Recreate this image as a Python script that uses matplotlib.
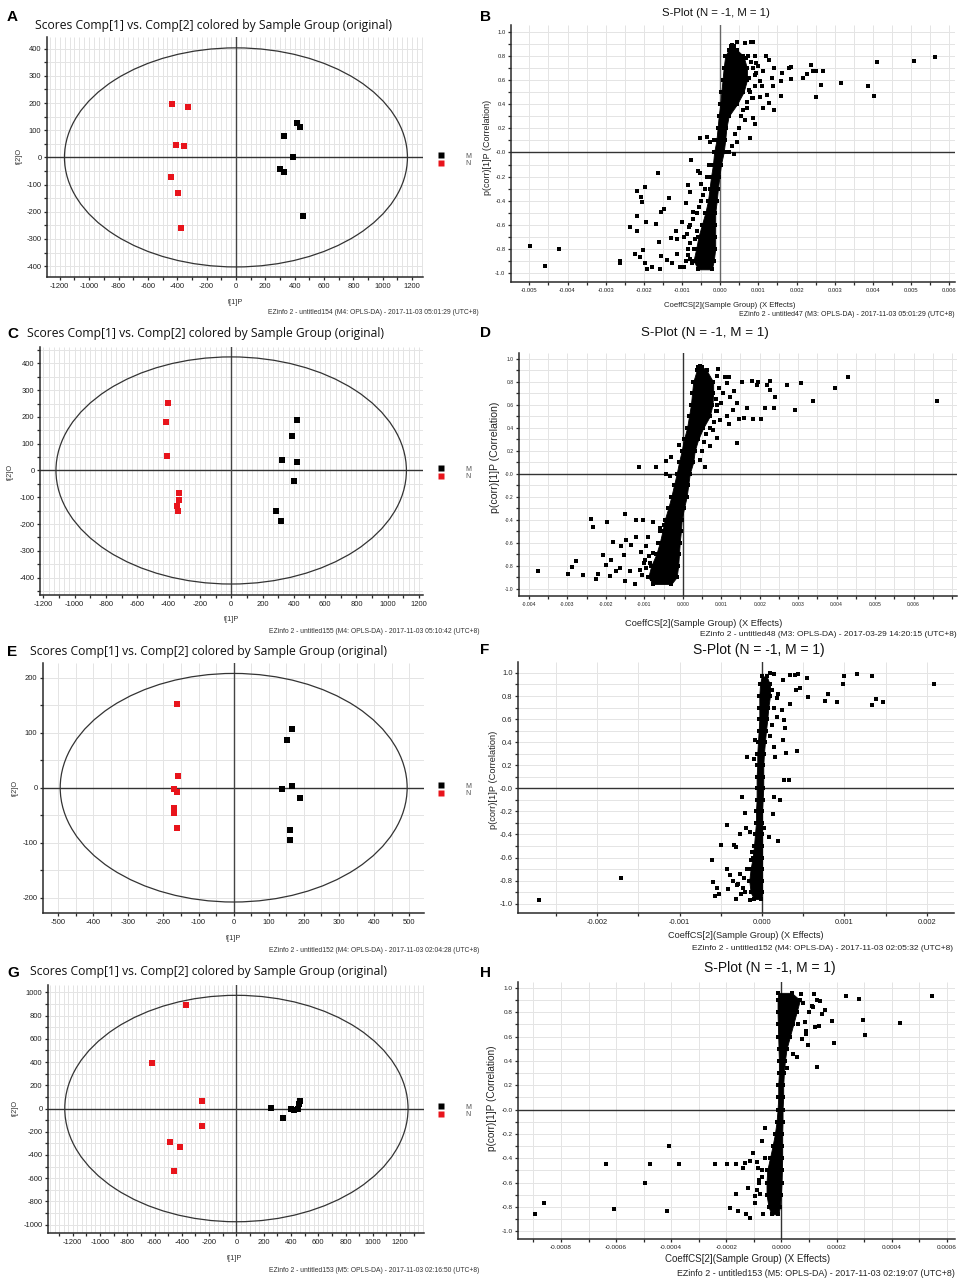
import numpy as np
import matplotlib
matplotlib.use('Agg')
import matplotlib.pyplot as plt
from matplotlib.patches import Ellipse
from matplotlib.lines import Line2D
from matplotlib.ticker import MultipleLocator, FixedLocator, FixedFormatter

W, H = 963, 1282

# ======================= DATA =======================
# ---- Score plots (t[1]P, t[2]O) ----
A_M_t1 = [414, 433, 326, 389, 301, 328, 455]
A_M_t2 = [128, 112, 78, 0, -44, -52, -217]
A_N_t1 = [-433, -326, -405, -357, -442, -392, -371]
A_N_t2 = [196, 186, 46, 41, -73, -132, -258]
A_ellipse = [1168, 403]

C_M_t1 = [419, 389, 323, 419, 398, 289, 315]
C_M_t2 = [189, 128, 40, 31, -41, -150, -190]
C_N_t1 = [-402, -419, -409, -336, -334, -345, -340]
C_N_t2 = [252, 180, 53, -86, -112, -131, -151]
C_ellipse = [1119, 424]

E_M_t1 = [166, 152, 137, 166, 190, 159, 159]
E_M_t2 = [106, 87, -2, 3, -19, -77, -95]
E_N_t1 = [-162, -158, -171, -162, -169, -169, -162]
E_N_t2 = [153, 22, -3, -8, -37, -46, -73]
E_ellipse = [494, 208]

G_M_t1 = [253, 343, 399, 425, 451, 456, 465]
G_M_t2 = [4, -79, -1, -13, 0, 40, 65]
G_N_t1 = [-370, -618, -255, -255, -490, -411, -455]
G_N_t2 = [891, 392, 62, -148, -288, -334, -538]
G_ellipse = [1258, 975]

group_labels = ['M', 'N']

# ---- S-plots: scattered variables (coefficient, correlation) ----
B_x = [0.00045, 0.00064, 0.0008, 0.00087, 0.00032, 0.0012, 0.00127, 0.00093, 0.00113, 0.0014,
       0.00161, 0.00179, 0.00185, 0.00185, 0.0016, 0.00136, 0.0016, 0.00137, 0.00122, 0.00112,
       0.00129, 0.0014, 0.00103, 0.0007, 0.00065, 0.00087, 0.00092, 0.00078, 0.00045, 0.00024,
       0.00216, 0.00227, 0.00237, 0.00244, 0.00251, 0.00269, 0.00263, 0.00251, 0.00316, 0.00388,
       0.00404, 0.0041, 0.00507, 0.00563, 0.00103, 0.00109, 0.0009, 0.00075, 0.00082, 0.00098,
       -0.00497, -0.0046, -0.00421, -0.00262, -0.00263, -0.00235, -0.00219, -0.00197, -0.00207, -0.00204,
       -0.00218, -0.00219, -0.00194, -0.00224, -0.0021, -0.00203, -0.00196, -0.00192, -0.00178, -0.00164,
       -0.00168, -0.00154, -0.00148, -0.0016, -0.00155, -0.00158, -0.00139, -0.00134, -0.00129, -0.00115,
       -0.00112, -0.00101, -0.00126, -0.00113, -0.00105, -0.00094, -0.0009, -0.00085, -0.00078, -0.00081,
       -0.00076, -0.0007, -0.00057, -0.00052, -0.00065, -0.00052, -0.0005, -0.00035, -0.00026, -0.00017,
       0.00017, -0.00085, -0.00095, -0.0008, -0.00072, -0.00088,
       0.0008, 0.00085, 0.00075, 0.0009, 0.00078, 0.00085, 0.0007, 0.00095, 0.001, 0.00068,
       0.00072, 0.0009, 0.0006, 0.00055, 0.0005, 0.0004, 0.0003, 0.00035, 0.00058, 0.00062,
       -0.0005, -0.0006, -0.00055, -0.0007, -0.0008, -0.00085, -0.0009, -0.00075, -0.0004, -0.00045,
       -0.0003, -0.00035, -0.00062, -0.00068, -0.00078]
B_y = [0.92, 0.91, 0.92, 0.92, 0.89, 0.80, 0.77, 0.74, 0.68, 0.70,
       0.66, 0.70, 0.71, 0.61, 0.59, 0.62, 0.47, 0.55, 0.48, 0.37,
       0.41, 0.35, 0.46, 0.37, 0.27, 0.29, 0.24, 0.12, 0.09, 0.005,
       0.62, 0.65, 0.73, 0.68, 0.68, 0.68, 0.56, 0.46, 0.58, 0.55,
       0.47, 0.75, 0.76, 0.79, 0.59, 0.55, 0.64, 0.52, 0.45, 0.72,
       -0.78, -0.94, -0.80, -0.90, -0.92, -0.62, -0.32, -0.29, -0.37, -0.41,
       -0.53, -0.65, -0.58, -0.84, -0.87, -0.81, -0.92, -0.97, -0.95, -0.17,
       -0.59, -0.49, -0.47, -0.74, -0.86, -0.97, -0.89, -0.38, -0.71, -0.65,
       -0.72, -0.58, -0.92, -0.84, -0.95, -0.95, -0.42, -0.27, -0.33, -0.62,
       -0.06, -0.49, -0.15, -0.17, -0.72, 0.12, -0.26, 0.13, 0.09, 0.10,
       0.005, -0.80, -0.70, -0.88, -0.90, -0.68,
       0.75, 0.70, 0.62, 0.55, 0.50, 0.45, 0.42, 0.66, 0.72, 0.78,
       0.80, 0.80, 0.35, 0.30, 0.20, 0.15, 0.05, -0.01, 0.55, 0.68,
       -0.40, -0.50, -0.45, -0.55, -0.75, -0.85, -0.90, -0.92, -0.30, -0.35,
       -0.10, -0.20, -0.65, -0.80, -0.60]
B_core_y = [0.88, 0.85, 0.8, 0.7, 0.6, 0.5, 0.4, 0.3, 0.2, 0.1, 0.0,
            -0.1, -0.2, -0.3, -0.4, -0.5, -0.6, -0.7, -0.8, -0.9, -0.97]
B_core_lo = [0.00028, 0.00022, 0.00013, 0.00009, 0.00006, 0.00003, 0.0, -0.00004, -0.00007, -0.0001, -0.00016,
             -0.00019, -0.00024, -0.00028, -0.00032, -0.00039, -0.00048, -0.00057, -0.00063, -0.0007, -0.00057]
B_core_hi = [0.00037, 0.00044, 0.00061, 0.0007, 0.0007, 0.00061, 0.00044, 0.00022, 0.00016, 0.00013, 0.00009,
             0.00002, -0.00002, -0.00006, -0.00009, -0.00013, -0.00013, -0.00013, -0.00013, -0.00017, -0.00022]

D_x = [0.00044, 0.00092, 0.00109, 0.00121, 0.00114, 0.00133, 0.00122, 0.0014, 0.00131, 0.00114,
       0.00121, 0.00096, 0.00088, 0.00079, 0.0007, 0.00057, 0.00044, 0.00141, 0.00155, 0.00179,
       0.00195, 0.00194, 0.0022, 0.00227, 0.00227, 0.00239, 0.00238, 0.00214, 0.00183, 0.00203,
       0.00147, 0.0016, 0.00166, 0.0027, 0.00307, 0.00293, 0.00338, 0.00396, 0.0043, 0.0066,
       -0.00377, -0.00299, -0.00288, -0.00277, -0.0026, -0.0024, -0.00233, -0.00225, -0.00221, -0.00207,
       -0.002, -0.00196, -0.0019, -0.00186, -0.00181, -0.00173, -0.00164, -0.0016, -0.00154, -0.00151,
       -0.00151, -0.00147, -0.00138, -0.00134, -0.00125, -0.00121, -0.00121, -0.00114, -0.00112, -0.00103,
       -0.00099, -0.00095, -0.0009, -0.00077, -0.00071, -0.00077, -0.0006, -0.00043, -0.0003, -0.00044,
       -0.00034, -0.0001, 0.001, 0.00085, 0.00105, -0.00105, -0.00085, -0.0011,
       0.0009, 0.00095, 0.00085, 0.0009, 0.0008, 0.0007, 0.0006, 0.0005, 0.00055, 0.00088,
       -0.0009, -0.00095, -0.001, -0.0008, -0.0007, -0.00065, -0.0006, -0.0005, -0.00088, -0.00072]
D_y = [0.94, 0.91, 0.84, 0.84, 0.79, 0.72, 0.67, 0.62, 0.56, 0.50,
       0.43, 0.47, 0.31, 0.38, 0.24, 0.06, 0.12, 0.27, 0.80, 0.81,
       0.80, 0.77, 0.77, 0.81, 0.73, 0.67, 0.57, 0.57, 0.48, 0.48,
       0.48, 0.49, 0.57, 0.77, 0.79, 0.56, 0.63, 0.75, 0.84, 0.63,
       -0.85, -0.87, -0.81, -0.76, -0.88, -0.39, -0.46, -0.92, -0.87, -0.71,
       -0.79, -0.42, -0.89, -0.75, -0.59, -0.85, -0.82, -0.63, -0.71, -0.35,
       -0.93, -0.58, -0.85, -0.62, -0.96, -0.40, -0.55, 0.06, -0.84, -0.40,
       -0.75, -0.63, -0.55, -0.42, 0.055, -0.69, -0.47, 0.11, 0.15, 0.0,
       -0.02, 0.25, 0.62, 0.55, 0.70, -0.88, -0.78, -0.68,
       0.85, 0.75, 0.65, 0.55, 0.45, 0.40, 0.35, 0.20, 0.28, 0.60,
       -0.90, -0.82, -0.78, -0.92, -0.85, -0.60, -0.50, -0.45, -0.72, -0.80]
D_core_y = [0.93, 0.9, 0.8, 0.7, 0.6, 0.5, 0.4, 0.3, 0.2, 0.1, 0.0,
            -0.1, -0.2, -0.3, -0.4, -0.5, -0.6, -0.7, -0.8, -0.9, -0.96]
D_core_lo = [0.0004, 0.00036, 0.00027, 0.00024, 0.00021, 0.00016, 0.00011, 0.00003, -0.00003, -0.0001, -0.00016,
             -0.00023, -0.0003, -0.00038, -0.00047, -0.00053, -0.0006, -0.00069, -0.00082, -0.0009, -0.00077]
D_core_hi = [0.00051, 0.00062, 0.00079, 0.00079, 0.00077, 0.0007, 0.00053, 0.0004, 0.00031, 0.00027, 0.00018,
             0.00014, 0.0001, 0.00003, -0.00003, -0.00005, -0.00008, -0.0001, -0.00012, -0.00016, -0.0003]

F_x = [0.0001, 0.00015, 0.00025, 0.00034, 0.0004, 0.00044, 0.00055, 0.00046, 0.00041, 0.00056,
       0.0008, 0.00076, 0.00091, 0.00098, 0.001, 0.00115, 0.00133, 0.00134, 0.00138, 0.00147,
       0.00209, 0.00034, 0.00024, 0.00027, 0.00028, 0.00025, 0.00029, 0.00043, 0.00014, 0.00016,
       0.00027, 0.00033, 0.00014, 0.00022, 0.00013, 0.00008, 0.0002, 0.00002, 0.00018, 0.00012,
       -0.00271, -0.00171, -0.00061, -0.00059, -0.00055, -0.00057, -0.00052, -0.00043, -0.0005, -0.00043,
       -0.00041, -0.00034, -0.00031, -0.00031, -0.00027, -0.00024, -0.00021, -0.00019, -0.00018, -0.0001,
       -0.00015, -0.00015, -0.00013, -0.00027, -0.00035, -0.00039, -0.00023, -0.00009, -0.0002, -0.00029,
       0.00015, 0.0002, 0.00018, 0.00012, 0.0001, -0.00022, -0.00018, -0.0003, -0.00025, -0.00012]
F_y = [1.0, 0.99, 0.94, 0.98, 0.98, 0.99, 0.96, 0.87, 0.85, 0.79,
       0.82, 0.76, 0.75, 0.90, 0.97, 0.99, 0.97, 0.72, 0.77, 0.75,
       0.90, 0.73, 0.68, 0.59, 0.52, 0.42, 0.31, 0.32, 0.36, 0.27,
       0.07, 0.075, -0.075, -0.10, -0.22, -0.42, -0.46, -0.34, 0.78, 0.85,
       -0.965, -0.78, -0.62, -0.81, -0.86, -0.93, -0.92, -0.32, -0.49, -0.70,
       -0.87, -0.49, -0.51, -0.96, -0.40, -0.075, -0.21, -0.34, 0.27, 0.25,
       -0.38, -0.97, -0.62, -0.74, -0.80, -0.75, -0.86, 0.42, -0.90, -0.83,
       0.70, 0.82, 0.62, 0.55, 0.45, -0.78, -0.70, -0.84, -0.92, -0.55]
F_core_y = [0.97, 0.9, 0.8, 0.7, 0.6, 0.5, 0.4, 0.3, 0.2, 0.1, 0.0,
            -0.1, -0.2, -0.3, -0.4, -0.5, -0.6, -0.7, -0.8, -0.9, -0.96]
F_core_lo = [-0.000004, -0.000024, -0.000032, -0.000032, -0.000032, -0.00004, -0.000049, -0.000057, -0.000057, -0.000065, -0.000065,
             -0.000065, -0.000073, -0.000073, -0.000085, -0.000097, -0.000113, -0.000138, -0.000154, -0.000138, -0.000097]
F_core_hi = [0.000057, 0.000097, 0.000097, 0.000077, 0.000065, 0.000049, 0.000036, 0.000024, 0.000016, 0.000016, 0.000016,
             0.000008, 0.0, 0.0, 0.0, 0.0, 0.0, 0.0, 0.0, 0.0, -0.000008]

H_x = [0.00007, 0.00012, 0.000116, 0.000128, 0.00014, 0.000158, 0.000146, 0.000137, 0.000122, 0.000185,
       0.000192, 0.000128, 0.000097, 0.000073, 0.000057, 0.000021, 0.000043, 0.000089, 0.000236, 0.000281,
       0.000297, 0.000303, 0.00043, 0.000547,
       -0.000894, -0.000862, -0.000635, -0.000609, -0.000494, -0.000478, -0.000417, -0.000408, -0.000371, -0.000241,
       -0.000199, -0.000187, -0.000165, -0.000165, -0.000157, -0.000141, -0.000127, -0.000114, -0.000133, -0.000114,
       -0.000103, -0.000097, -0.000097, -0.000088, -0.000084, -0.000121, -0.000081, -0.000072, -0.000066, -0.00006,
       -0.000078, -0.000072,
       0.00008, 0.0001, 0.000085, 0.00006, 0.00009, 0.00011, -0.00006, -0.00008, -0.00007, -0.00009]
H_y = [0.95, 0.95, 0.84, 0.90, 0.89, 0.82, 0.79, 0.69, 0.68, 0.73,
       0.55, 0.35, 0.53, 0.58, 0.43, 0.34, 0.46, 0.65, 0.93, 0.91,
       0.74, 0.61, 0.71, 0.93,
       -0.855, -0.77, -0.45, -0.82, -0.60, -0.45, -0.83, -0.30, -0.45, -0.45,
       -0.45, -0.81, -0.45, -0.69, -0.83, -0.48, -0.86, -0.89, -0.44, -0.42,
       -0.36, -0.77, -0.71, -0.43, -0.48, -0.64, -0.60, -0.26, -0.86, -0.15,
       -0.69, -0.55,
       0.88, 0.80, 0.72, 0.70, 0.62, 0.85, -0.40, -0.58, -0.50, -0.66]
H_core_y = [0.96, 0.9, 0.8, 0.7, 0.6, 0.5, 0.4, 0.3, 0.2, 0.1, 0.0,
            -0.1, -0.2, -0.3, -0.4, -0.5, -0.6, -0.7, -0.8, -0.86]
H_core_lo = [-0.0000116, -0.000014, -0.000014, -0.000013, -0.0000116, -0.0000104, -0.0000092, -0.0000092, -0.0000116, -0.0000116,
             -0.000014, -0.0000177, -0.0000237, -0.0000322, -0.0000419, -0.0000516, -0.000054, -0.000054, -0.0000467, -0.0000358]
H_core_hi = [0.0000368, 0.000067, 0.000055, 0.0000429, 0.0000308, 0.0000187, 0.0000126, 0.000009, 0.0000065, 0.0000065,
             0.0000041, 0.0000041, 0.0000029, 0.0000029, 0.0000029, 0.0000017, 0.0000005, -0.0000019, -0.0000056, -0.0000116]

corr_ticks = [-1.0, -0.8, -0.6, -0.4, -0.2, 0.0, 0.2, 0.4, 0.6, 0.8, 1.0]
corr_labels = ['-1.0', '-0.8', '-0.6', '-0.4', '-0.2', '-0.0', '0.2', '0.4', '0.6', '0.8', '1.0']

score_title = 'Scores Comp[1] vs. Comp[2] colored by Sample Group (original)'
splot_title = 'S-Plot (N = -1, M = 1)'
footers = {
    'A': 'EZinfo 2 - untitled154 (M4: OPLS-DA) - 2017-11-03 05:01:29 (UTC+8)',
    'B': 'EZinfo 2 - untitled47 (M3: OPLS-DA) - 2017-11-03 05:01:29 (UTC+8)',
    'C': 'EZinfo 2 - untitled155 (M4: OPLS-DA) - 2017-11-03 05:10:42 (UTC+8)',
    'D': 'EZinfo 2 - untitled48 (M3: OPLS-DA) - 2017-03-29 14:20:15 (UTC+8)',
    'E': 'EZinfo 2 - untitled152 (M4: OPLS-DA) - 2017-11-03 02:04:28 (UTC+8)',
    'F': 'EZinfo 2 - untitled152 (M4: OPLS-DA) - 2017-11-03 02:05:32 (UTC+8)',
    'G': 'EZinfo 2 - untitled153 (M5: OPLS-DA) - 2017-11-03 02:16:50 (UTC+8)',
    'H': 'EZinfo 2 - untitled153 (M5: OPLS-DA) - 2017-11-03 02:19:07 (UTC+8)',
}

# ======================= STYLE =======================
plt.rcParams['font.family'] = ['Liberation Sans', 'DejaVu Sans']
plt.rcParams['axes.unicode_minus'] = False
ARIAL = ['Liberation Sans', 'DejaVu Sans']
TITLEF = ['Open Sans', 'DejaVu Sans']
RED = '#e8141b'
GRID = '#e4e4e4'
AX = '#2a2a2a'

fig = plt.figure(figsize=(W / 100, H / 100), dpi=100)


def fx(x):
    return x / W


def fy(y):
    return 1 - y / H


def add_ax(left, right, top, bottom):
    return fig.add_axes([fx(left), fy(bottom), (right - left) / W, (bottom - top) / H])


def style_axes(ax, xlim, ylim, gx, gy):
    ax.set_xlim(*xlim)
    ax.set_ylim(*ylim)
    for s in ('top', 'right'):
        ax.spines[s].set_visible(False)
    for s in ('left', 'bottom'):
        ax.spines[s].set_color(AX)
        ax.spines[s].set_linewidth(1.1)
    gxv = np.arange(np.ceil(xlim[0] / gx) * gx, xlim[1], gx)
    gyv = np.arange(np.ceil(ylim[0] / gy) * gy, ylim[1], gy)
    ax.vlines(gxv, ylim[0], ylim[1], color=GRID, lw=0.7, zorder=0)
    ax.hlines(gyv, xlim[0], xlim[1], color=GRID, lw=0.7, zorder=0)
    ax.axhline(0, color='#333333', lw=1.0, zorder=1)
    ax.axvline(0, color='#444444', lw=1.0, zorder=1)
    ax.tick_params(which='major', direction='out', length=2.5, width=0.9, color=AX, pad=1.5)
    ax.tick_params(which='minor', direction='out', length=2.5, width=0.9, color=AX)


def score_panel(letter, box, xlim, ylim, xmaj, xmin, ymaj, ymin, gx, gy,
                M1, M2, N1, N2, ell, title_xy, xl_xy, yl_xy, foot_xy, letter_xy):
    ax = add_ax(*box)
    style_axes(ax, xlim, ylim, gx, gy)
    ax.add_patch(Ellipse((0, 0), 2 * ell[0], 2 * ell[1], fill=False, ec='#333333', lw=0.9, zorder=2))
    ax.scatter(M1, M2, marker='s', s=23, c='black', linewidths=0, zorder=4)
    ax.scatter(N1, N2, marker='s', s=23, c=RED, linewidths=0, zorder=4)
    ax.xaxis.set_major_locator(MultipleLocator(xmaj))
    ax.xaxis.set_minor_locator(MultipleLocator(xmin))
    ax.yaxis.set_major_locator(MultipleLocator(ymaj))
    ax.yaxis.set_minor_locator(MultipleLocator(ymin))
    for lab in ax.get_xticklabels() + ax.get_yticklabels():
        lab.set_fontsize(5.5)
        lab.set_color('#222222')
    handles = [Line2D([], [], ls='none', marker='s', ms=4.2, mfc='black', mec='none'),
               Line2D([], [], ls='none', marker='s', ms=4.2, mfc=RED, mec='none')]
    leg_y = (box[3] - (title_xy[2])) / (box[3] - box[2])
    leg = ax.legend(handles, group_labels, loc='center left', frameon=False,
                    bbox_to_anchor=((438 - box[0]) / (box[1] - box[0]), leg_y),
                    fontsize=5, handlelength=0.8, handletextpad=3.2, labelspacing=0.05,
                    borderpad=0, borderaxespad=0)
    for t in leg.get_texts():
        t.set_color('#555555')
    fig.text(fx(letter_xy[0]), fy(letter_xy[1]), letter, fontsize=11, fontweight='bold',
             ha='left', va='center', family=['Liberation Sans'])
    fig.text(fx(title_xy[0]), fy(title_xy[1]), score_title, fontsize=8.7, ha='left', va='center',
             family=TITLEF, color='#111111')
    fig.text(fx(xl_xy[0]), fy(xl_xy[1]), 't[1]P', fontsize=5.3, ha='center', va='center', color='#333333')
    fig.text(fx(yl_xy[0]), fy(yl_xy[1]), 't[2]O', fontsize=5.3, ha='center', va='center', rotation=90,
             color='#333333')
    fig.text(fx(foot_xy[0]), fy(foot_xy[1]), footers[letter], fontsize=4.9, ha='right', va='center',
             color='#333333')
    return ax


def splot_panel(letter, box, xlim, ylim, xticks, xfmt, gx, xs, ys, cy, clo, chi,
                title_xy, title_fs, xl_xy, yl_xy, foot_xy, letter_xy, tick_fs, xlab_fs, ylab_fs, foot_fs,
                vzero='#666666'):
    ax = add_ax(*box)
    style_axes(ax, xlim, ylim, gx, 0.1)
    ax.lines[-1].set_color(vzero)
    ax.fill_betweenx(cy, clo, chi, color='black', lw=0.6, zorder=3)
    ax.scatter(clo + chi, cy + cy, marker='s', s=6, c='black', linewidths=0, zorder=3)
    ax.scatter(xs, ys, marker='s', s=6.5, c='black', linewidths=0, zorder=4)
    ax.xaxis.set_major_locator(FixedLocator(xticks))
    ax.xaxis.set_major_formatter(FixedFormatter([xfmt % v if abs(v) > 1e-12 else xfmt % 0 for v in xticks]))
    ax.xaxis.set_minor_locator(MultipleLocator(gx))
    ax.yaxis.set_major_locator(FixedLocator(corr_ticks))
    ax.yaxis.set_major_formatter(FixedFormatter(corr_labels))
    ax.yaxis.set_minor_locator(MultipleLocator(0.1))
    for lab in ax.get_xticklabels() + ax.get_yticklabels():
        lab.set_fontsize(tick_fs)
        lab.set_color('#222222')
        lab.set_family(ARIAL)
    fig.text(fx(letter_xy[0]), fy(letter_xy[1]), letter, fontsize=11, fontweight='bold',
             ha='left', va='center', family=['Liberation Sans'])
    fig.text(fx(title_xy[0]), fy(title_xy[1]), splot_title, fontsize=title_fs, ha='center', va='center',
             family=ARIAL, color='#111111')
    fig.text(fx(xl_xy[0]), fy(xl_xy[1]), 'CoeffCS[2](Sample Group) (X Effects)', fontsize=xlab_fs,
             ha='center', va='center', family=ARIAL, color='#222222')
    fig.text(fx(yl_xy[0]), fy(yl_xy[1]), 'p(corr)[1]P (Correlation)', fontsize=ylab_fs,
             ha='center', va='center', rotation=90, family=ARIAL, color='#222222')
    fig.text(fx(foot_xy[0]), fy(foot_xy[1]), footers[letter], fontsize=foot_fs, ha='right', va='center',
             family=ARIAL, color='#222222')
    return ax


# ---- Score panels ----
score_panel('A', (47, 423, 37, 277), (-1287, 1274), (-440, 443), 200, 100, 100, 50, 200 / 6, 50,
            A_M_t1, A_M_t2, A_N_t1, A_N_t2, A_ellipse, (35, 26, 160), (236, 302), (19, 156), (479, 313), (7, 17))
score_panel('C', (40, 423, 347, 595), (-1221, 1225), (-465, 461), 200, 100, 100, 50, 200 / 6, 50,
            C_M_t1, C_M_t2, C_N_t1, C_N_t2, C_ellipse, (27, 334, 473), (232, 620), (10, 472), (479, 632), (7, 334))
score_panel('E', (43, 424, 663, 913), (-543, 542), (-228, 227), 100, 50, 100, 50, 50, 50,
            E_M_t1, E_M_t2, E_N_t1, E_N_t2, E_ellipse, (30, 651, 790), (234, 938), (15, 788), (479, 950), (7, 652))
score_panel('G', (48, 424, 985, 1233), (-1381, 1375), (-1072, 1064), 200, 100, 200, 100, 200 / 6, 100,
            G_M_t1, G_M_t2, G_N_t1, G_N_t2, G_ellipse, (30, 972, 1111), (235, 1259), (15, 1108), (479, 1270), (7, 973))

# ---- S-plot panels ----
splot_panel('B', (511, 955, 25, 282), (-0.00548, 0.00615), (-1.075, 1.058),
            [-0.005, -0.004, -0.003, -0.002, -0.001, 0.0, 0.001, 0.002, 0.003, 0.004, 0.005, 0.006], '%.3f', 0.0005,
            B_x, B_y, B_core_y, B_core_lo, B_core_hi,
            (716, 13), 8.2, (730, 305), (487, 147), (955, 314), (480, 17), 4.2, 5.6, 6.5, 5.0)
splot_panel('D', (519, 957, 353, 596), (-0.00426, 0.00713), (-1.064, 1.052),
            [-0.004, -0.003, -0.002, -0.001, 0.0, 0.001, 0.002, 0.003, 0.004, 0.005, 0.006], '%.3f', 0.0005,
            D_x, D_y, D_core_y, D_core_lo, D_core_hi,
            (705, 333), 9.6, (704, 623), (495, 457), (957, 634), (480, 333), 3.6, 6.7, 7.6, 6.0, vzero='#333333')
splot_panel('F', (518, 954, 662, 913), (-0.00296, 0.00233), (-1.081, 1.095),
            [-0.002, -0.001, 0.0, 0.001, 0.002], '%.3f', 0.0005,
            F_x, F_y, F_core_y, F_core_lo, F_core_hi,
            (759, 650), 10, (746, 935), (493, 780), (953, 948), (480, 650), 5.4, 6.6, 6.7, 6.0, vzero='#333333')
splot_panel('H', (518, 955, 982, 1239), (-0.000956, 0.00063), (-1.063, 1.049),
            [-0.0008, -0.0006, -0.0004, -0.0002, 0.0, 0.0002, 0.0004, 0.0006], '%.4f', 0.0001,
            H_x, H_y, H_core_y, H_core_lo, H_core_hi,
            (770, 968), 10, (748, 1259), (492, 1098), (955, 1273), (480, 973), 4.6, 7.0, 7.2, 6.4, vzero='#333333')

fig.savefig('out.png', dpi=100, facecolor='white')
